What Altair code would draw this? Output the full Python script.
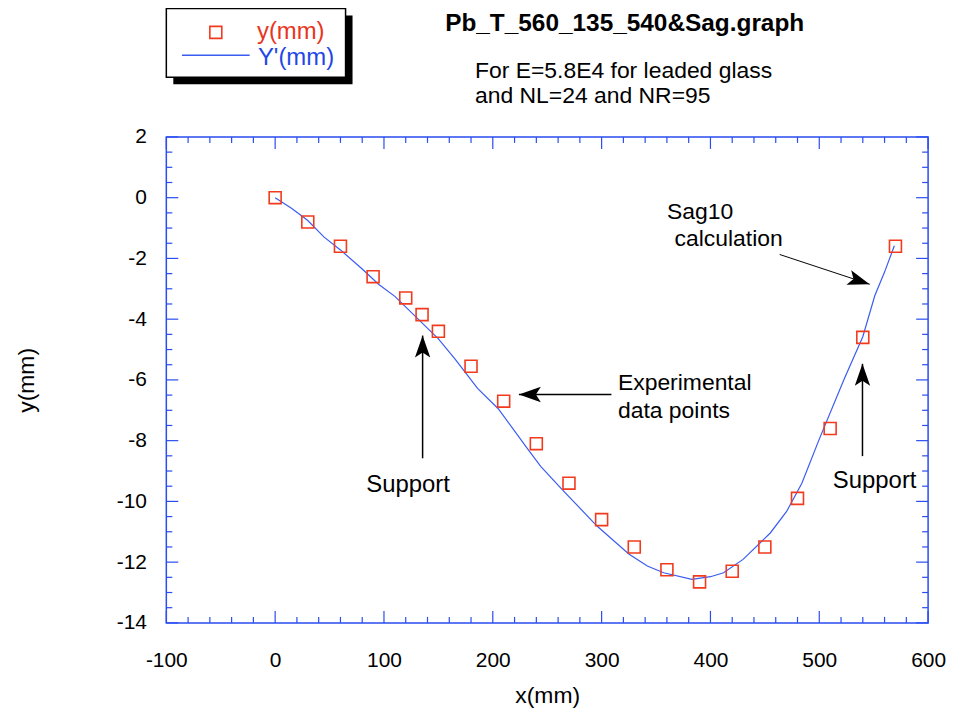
import altair as alt
import pandas as pd

# ---------------- data ----------------
meas_x = [0, 30, 60, 90, 120, 135, 150, 180, 210, 240, 270, 300, 330, 360, 390, 420, 450, 480, 510, 540, 570]
meas_y = [0, -0.8, -1.6, -2.6, -3.3, -3.85, -4.4, -5.55, -6.7, -8.1, -9.4, -10.6, -11.5, -12.25, -12.65,
          -12.3, -11.5, -9.9, -7.6, -4.6, -1.6]

calc_x = [0, 15, 30, 45, 60, 80, 95, 110, 130, 150, 165, 186, 205, 232, 244, 264, 296, 325, 342, 357,
          383, 400, 412, 430, 455, 470, 484, 500, 523, 540, 551, 560, 569]
calc_y = [0, -0.35, -0.75, -1.3, -1.72, -2.35, -2.85, -3.25, -3.95, -4.65, -5.3, -6.28, -6.95, -8.27,
          -8.85, -9.62, -10.82, -11.73, -12.13, -12.35, -12.57, -12.48, -12.35, -11.91, -11.04, -10.33,
          -9.4, -7.95, -5.96, -4.58, -3.23, -2.45, -1.58]

x_major = [-100, 0, 100, 200, 300, 400, 500, 600]
y_major = [-14, -12, -10, -8, -6, -4, -2, 0, 2]
x_minor = [m + d for m in x_major[:-1] for d in (20, 40, 60, 80)]
y_minor = [m + d for m in y_major[:-1] for d in (0.5, 1.0, 1.5)]

# annotations (data coordinates)
arrow_x1 = [135.5, 309, 539.7, 463.6]
arrow_y1 = [-8.58, -6.48, -8.51, -1.87]
arrow_x2 = [135.5, 224, 539.7, 546.3]
arrow_y2 = [-4.54, -6.48, -5.47, -2.85]
arrow_ang = [0, 270, 0, 108]
arrow_w = [1.5, 1.3, 1.5, 1.0]

center_text = ["Support", "Support"]
center_x = [122.1, 550.9]
center_y = [-9.45, -9.34]
left_text = ["Experimental", "data points", "Sag10", "calculation"]
left_x = [315, 315, 360, 367]
left_y = [-6.1, -7.04, -0.48, -1.37]

title_text = "Pb_T_560_135_540&Sag.graph"
sub_lines = ["For E=5.8E4 for leaded glass", "and NL=24 and NR=95"]
legend_labels = ["y(mm)", "Y'(mm)"]

# ---------------- styling ----------------
W, H = 765, 488
FONT = "Liberation Sans"
AXIS_BLUE = "#2a4cf0"
LINE_BLUE = "#3a5cf2"
RED = "#f23a1c"
ARROW = "M0,0L-0.7,2L0,1.55L0.7,2Z"

xs = alt.Scale(domain=[-100, 600], nice=False, zero=False)
ys = alt.Scale(domain=[-14, 2], nice=False, zero=False)

x_axis = alt.Axis(values=x_major, labelExpr="'' + datum.value", domain=False, ticks=False, tickSize=0,
                  grid=False, labelFlush=False, labelOverlap=False,
                  labelFont=FONT, labelFontSize=21, labelColor="black", labelPadding=27,
                  title="x(mm)", titleFont=FONT, titleFontSize=23, titleFontWeight="normal",
                  titleColor="black", titleX=W / 2, titleY=73, titleAlign="center", titleBaseline="middle")
y_axis = alt.Axis(values=y_major, labelExpr="'' + datum.value", domain=False, ticks=False, tickSize=0,
                  grid=False, labelFlush=False, labelOverlap=False,
                  labelFont=FONT, labelFontSize=21, labelColor="black", labelPadding=20,
                  title="y(mm)", titleFont=FONT, titleFontSize=23, titleFontWeight="normal",
                  titleColor="black", titleX=-140, titleY=H / 2, titleAngle=270, titleAlign="center",
                  titleBaseline="middle")


def X(f):
    return alt.X(f, scale=xs, axis=x_axis)


def Y(f):
    return alt.Y(f, scale=ys, axis=y_axis)


meas = pd.DataFrame({"x": meas_x, "y": meas_y})
calc = pd.DataFrame({"x": calc_x, "y": calc_y})
one = pd.DataFrame({"a": [0]})

line = alt.Chart(calc).mark_line(color=LINE_BLUE, strokeWidth=1.2).encode(
    x=X("x:Q"), y=Y("y:Q"), order="x:Q")
points = alt.Chart(meas).mark_point(shape="square", size=144, color=RED, strokeWidth=1.6,
                                    filled=False, opacity=1).encode(x=X("x:Q"), y=Y("y:Q"))


def xticks(vals, length):
    df = pd.DataFrame({"x": vals})
    b = alt.Chart(df).mark_rule(color=AXIS_BLUE, strokeWidth=1.2).encode(
        x=X("x:Q"), y=alt.value(H), y2=alt.value(H - length))
    t = alt.Chart(df).mark_rule(color=AXIS_BLUE, strokeWidth=1.2).encode(
        x=X("x:Q"), y=alt.value(0), y2=alt.value(length))
    return [b, t]


def yticks(vals, length):
    df = pd.DataFrame({"y": vals})
    l = alt.Chart(df).mark_rule(color=AXIS_BLUE, strokeWidth=1.2).encode(
        y=Y("y:Q"), x=alt.value(0), x2=alt.value(length))
    r = alt.Chart(df).mark_rule(color=AXIS_BLUE, strokeWidth=1.2).encode(
        y=Y("y:Q"), x=alt.value(W), x2=alt.value(W - length))
    return [l, r]


ticks = xticks(x_major, 12) + xticks(x_minor, 6) + yticks(y_major, 12) + yticks(y_minor, 6)

arrows = pd.DataFrame({"x1": arrow_x1, "y1": arrow_y1, "x2": arrow_x2, "y2": arrow_y2,
                       "ang": arrow_ang, "w": arrow_w})
shafts = alt.Chart(arrows).mark_rule(color="black").encode(
    x=X("x1:Q"), y=Y("y1:Q"), x2="x2:Q", y2="y2:Q",
    strokeWidth=alt.StrokeWidth("w:Q", scale=None))
heads = alt.Chart(arrows).mark_point(shape=ARROW, filled=True, size=484, color="black",
                                     opacity=1, strokeWidth=0).encode(
    x=X("x2:Q"), y=Y("y2:Q"), angle=alt.Angle("ang:Q", scale=None))

ctext = alt.Chart(pd.DataFrame({"x": center_x, "y": center_y, "t": center_text})).mark_text(
    font=FONT, fontSize=24, color="black", align="center", baseline="middle").encode(
    x=X("x:Q"), y=Y("y:Q"), text="t:N")
ltext = alt.Chart(pd.DataFrame({"x": left_x, "y": left_y, "t": left_text})).mark_text(
    font=FONT, fontSize=23, color="black", align="left", baseline="middle").encode(
    x=X("x:Q"), y=Y("y:Q"), text="t:N")

# ---------------- header: title, subtitle, legend box ----------------
title = alt.Chart(one).mark_text(font=FONT, fontSize=24.5, fontWeight="bold", color="black",
                                 align="left", baseline="alphabetic", text=title_text).encode(
    x=alt.value(280), y=alt.value(-106))
sub1 = alt.Chart(one).mark_text(font=FONT, fontSize=23, color="black", align="left",
                                baseline="alphabetic", text=sub_lines[0]).encode(
    x=alt.value(310), y=alt.value(-59))
sub2 = alt.Chart(one).mark_text(font=FONT, fontSize=23, color="black", align="left",
                                baseline="alphabetic", text=sub_lines[1]).encode(
    x=alt.value(310), y=alt.value(-34))

shadow = alt.Chart(one).mark_rect(color="black").encode(
    x=alt.value(7), x2=alt.value(187), y=alt.value(-122), y2=alt.value(-53))
box = alt.Chart(one).mark_rect(fill="white", stroke="black", strokeWidth=1.5).encode(
    x=alt.value(0), x2=alt.value(180), y=alt.value(-129), y2=alt.value(-60))
leg_sq = alt.Chart(one).mark_point(shape="square", size=144, color=RED, strokeWidth=1.6,
                                   filled=False, opacity=1).encode(
    x=alt.value(49.7), y=alt.value(-105))
leg_ln = alt.Chart(one).mark_rule(color=LINE_BLUE, strokeWidth=1.5).encode(
    x=alt.value(15.7), x2=alt.value(83.7), y=alt.value(-82))
leg_t1 = alt.Chart(one).mark_text(font=FONT, fontSize=24, color="#e8351e", align="left",
                                  baseline="alphabetic", text=legend_labels[0]).encode(
    x=alt.value(91), y=alt.value(-98.5))
leg_t2 = alt.Chart(one).mark_text(font=FONT, fontSize=24, color="#1f47e6", align="left",
                                  baseline="alphabetic", text=legend_labels[1]).encode(
    x=alt.value(92), y=alt.value(-72.5))

chart = alt.layer(
    line, *ticks, points, shafts, heads, ctext, ltext,
    title, sub1, sub2, shadow, box, leg_sq, leg_ln, leg_t1, leg_t2,
).properties(
    width=W, height=H,
    background="white",
    autosize=alt.AutoSizeParams(type="none"),
    padding={"left": 159, "top": 128, "right": 22, "bottom": 86},
).configure_view(stroke=AXIS_BLUE, strokeWidth=1.5)

chart.save("out.html", embed_options={"renderer": "svg", "actions": False})
